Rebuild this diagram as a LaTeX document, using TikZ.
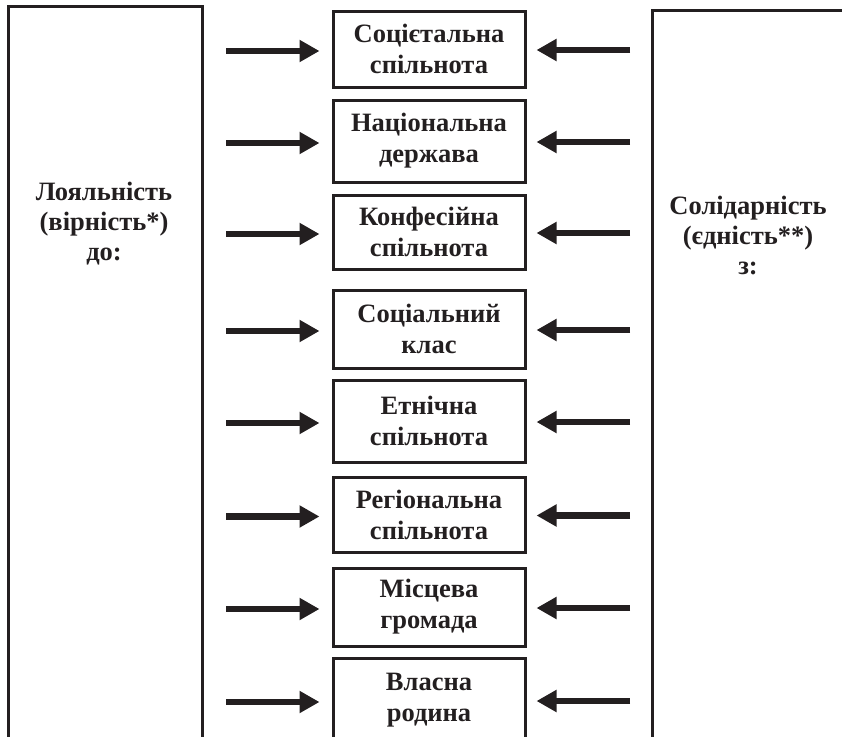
\documentclass[tikz,border=0pt]{standalone}
\usepackage{fontspec}
\setmainfont{Liberation Serif}
\usetikzlibrary{arrows.meta}
\definecolor{ink}{HTML}{231F20}
\tikzset{
  frame/.style={draw=ink, line width=3pt},
  itembox/.style={frame, minimum width=192pt, inner sep=0pt, align=center,
    font=\fontsize{26.5}{31}\selectfont\bfseries, text=ink},
  sidetext/.style={align=center, font=\fontsize{26.5}{30}\selectfont\bfseries, text=ink},
  bigarrow/.style={draw=ink, line width=6.5pt, -{Triangle[length=20pt,width=21pt]}}
}
\begin{document}
\begin{tikzpicture}[x=1pt,y=-1pt]
\useasboundingbox (0,0) rectangle (842,736);
\clip (0,0) rectangle (842,736);
% side frames
\draw[frame] (8,6) rectangle (202,760);
\draw[frame] (652,10) rectangle (860,760);
\node[sidetext] (loy) at (104,224) {Лояльність\\(вірність*)\\до:};
\node[sidetext] (sol) at (748,235) {Солідарність\\(єдність**)\\з:};
% item boxes
\foreach \n/\t/\b/\txt in {
  1/11/87/{Соцієтальна\\спільнота},
  2/100/182/{Національна\\держава},
  3/195/269/{Конфесійна\\спільнота},
  4/290/368/{Соціальний\\клас},
  5/380/462/{Етнічна\\спільнота},
  6/477/552/{Регіональна\\спільнота},
  7/568/646/{Місцева\\громада},
  8/658/742/{Власна\\родина}}{
  \node[itembox, minimum height={\b-\t}] (b\n) at (429,{(\t+\b)/2}) {\txt};
  \coordinate (l\n) at (226,{(\t+\b)/2+2});
  \coordinate (r\n) at (630,{(\t+\b)/2+1});
  \draw[bigarrow, shorten >=12pt] (l\n) -- (l\n -| b\n.west);
  \draw[bigarrow, shorten >=10pt] (r\n) -- (r\n -| b\n.east);
}
\end{tikzpicture}
\end{document}
